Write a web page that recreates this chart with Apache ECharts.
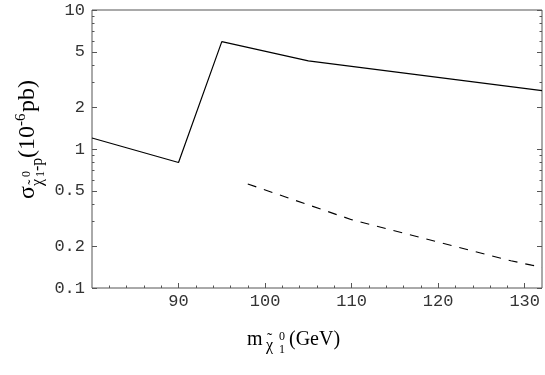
<!DOCTYPE html>
<html>
<head>
<meta charset="utf-8">
<script src="https://cdn.jsdelivr.net/npm/echarts@6/dist/echarts.min.js"></script>
<style>
  html, body { margin: 0; padding: 0; background: #fff; }
  #main { width: 545px; height: 375px; }
</style>
</head>
<body>
<div id="main"></div>
<script>
// solid curve
var solidX = [80, 90, 95, 105, 132];
var solidY = [1.2, 0.80, 5.92, 4.3, 2.63];
// dashed curve
var dashX = [98, 110, 120, 128.4, 130.8, 132];
var dashY = [0.56, 0.31, 0.214, 0.157, 0.146, 0.141];
// ticks
var xMajor = [90, 100, 110, 120, 130];
var xMinor = [82, 84, 86, 88, 92, 94, 96, 98, 102, 104, 106, 108, 112, 114, 116, 118, 122, 124, 126, 128];
var yMajor = [0.1, 0.2, 0.5, 1, 2, 5, 10];
var yMinor = [0.3, 0.4, 0.6, 0.7, 0.8, 0.9, 3, 4, 6, 7, 8, 9];

var tickFont = '"Liberation Mono", "Courier New", monospace';
var serif = '"Liberation Serif", "Times New Roman", serif';
var frameColor = '#555';

function pairs(xs, ys) {
  return xs.map(function (x, i) { return [x, ys[i]]; });
}

function xAx(ticks, len, labels) {
  return {
    type: 'value', min: 80, max: 132, position: 'bottom',
    axisLine: { show: false },
    splitLine: { show: false },
    axisTick: { show: true, inside: true, length: len, customValues: ticks, lineStyle: { color: frameColor } },
    axisLabel: labels ? { customValues: ticks, fontFamily: tickFont, fontSize: 17, color: '#333', margin: 5 } : { show: false }
  };
}

function yAx(ticks, len, pos, labels) {
  return {
    type: 'log', logBase: 10, min: 0.1, max: 10, position: pos,
    axisLine: { show: false },
    splitLine: { show: false },
    axisTick: { show: true, inside: true, length: len, customValues: ticks, lineStyle: { color: frameColor } },
    axisLabel: labels ? { customValues: ticks, fontFamily: tickFont, fontSize: 17, color: '#333', margin: 7 } : { show: false }
  };
}

// pieces of the axis titles
function txt(s, x, y, size, rot) {
  return {
    type: 'text', x: x, y: y, rotation: rot ? Math.PI / 2 : 0,
    style: { text: s, font: size + 'px ' + serif, fill: '#000', align: 'left', verticalAlign: 'bottom' }
  };
}

var chart = echarts.init(document.getElementById('main'));
chart.setOption({
  animation: false,
  grid: { left: 92, top: 10, width: 450, height: 278, show: true, borderColor: frameColor, borderWidth: 1 },
  xAxis: [xAx(xMajor, 5, true), xAx(xMinor, 2.5, false)],
  yAxis: [yAx(yMajor, 5, 'left', true), yAx(yMinor, 2.5, 'left', false),
          yAx(yMajor, 5, 'right', false), yAx(yMinor, 2.5, 'right', false)],
  graphic: [
    // x title: m_{chi~ 1^0} (GeV)
    txt('m', 247, 350, 20),
    txt('χ', 266, 354, 16),
    txt('\u02dc', 267, 348, 16),
    txt('0', 279, 343, 12),
    txt('1', 279, 356, 12),
    txt('(GeV)', 289, 350, 20),
    // y title: sigma_{chi~ 1^0 - p} (10^-6 pb)
    txt('σ', 40, 199, 24, true),
    txt('χ', 46, 186, 16, true),
    txt('\u02dc', 43, 185, 16, true),
    txt('0', 33, 177, 12, true),
    txt('1', 47, 177, 12, true),
    txt('-p', 46, 171, 16, true),
    txt('(10', 40, 158, 24, true),
    txt('-6', 29, 126, 15, true),
    txt('pb)', 40, 112, 24, true)
  ],
  series: [
    {
      type: 'line', xAxisIndex: 0, yAxisIndex: 0, data: pairs(solidX, solidY),
      showSymbol: false, lineStyle: { color: '#000', width: 1.2 }
    },
    {
      type: 'line', xAxisIndex: 0, yAxisIndex: 0, data: pairs(dashX, dashY),
      showSymbol: false, lineStyle: { color: '#000', width: 1.2, type: [9, 8] }
    }
  ]
});
</script>
</body>
</html>
